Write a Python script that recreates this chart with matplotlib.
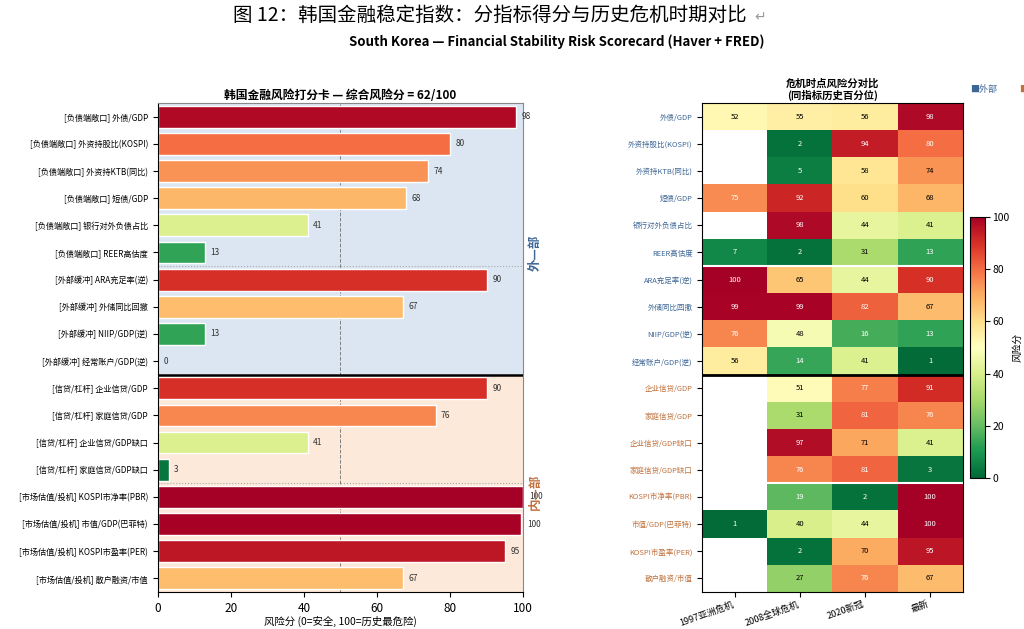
import numpy as np
import matplotlib.pyplot as plt
from matplotlib.colors import Normalize

plt.rcParams['font.family'] = ['Noto Sans CJK SC', 'DejaVu Sans']
plt.rcParams['axes.unicode_minus'] = False

# ---------------- données ----------------
groupes = ["负债端敞口"] * 6 + ["外部缓冲"] * 4 + ["信贷/杠杆"] * 4 + ["市场估值/投机"] * 4
indicateurs = ["外债/GDP", "外资持股比(KOSPI)", "外资持KTB(同比)", "短债/GDP",
               "银行对外负债占比", "REER高估度",
               "ARA充足率(逆)", "外储同比回撤", "NIIP/GDP(逆)", "经常账户/GDP(逆)",
               "企业信贷/GDP", "家庭信贷/GDP", "企业信贷/GDP缺口", "家庭信贷/GDP缺口",
               "KOSPI市净率(PBR)", "市值/GDP(巴菲特)", "KOSPI市盈率(PER)", "散户融资/市值"]
scores = [98, 80, 74, 68, 41, 13, 90, 67, 13, 0, 90, 76, 41, 3, 100, 99.5, 95, 67]

periodes = ["1997亚洲危机", "2008全球危机", "2020新冠", "最新"]
nan = np.nan
crise_1997 = [52, nan, nan, 75, nan, 7, 100, 99, 76, 56, nan, nan, nan, nan, nan, 1, nan, nan]
crise_2008 = [55, 2, 5, 92, 98, 2, 65, 99, 48, 14, 51, 31, 97, 76, 19, 40, 2, 27]
crise_2020 = [56, 94, 58, 60, 44, 31, 44, 82, 16, 41, 77, 81, 71, 81, 2, 44, 70, 76]
dernier = [98, 80, 74, 68, 41, 13, 90, 67, 13, 1, 91, 76, 41, 3, 100, 100, 95, 67]

n_ext = 10  # nombre d'indicateurs "外部"
bleu = "#3d6696"
orange = "#c0703c"

cmap = plt.get_cmap("RdYlGn_r")
norm = Normalize(0, 100)

fig = plt.figure(figsize=(10.24, 6.29), dpi=100)

fig.text(0.478, 0.975, "图 12：韩国金融稳定指数：分指标得分与历史危机时期对比", ha="center",
         va="center", fontsize=14)
fig.text(0.737, 0.972, "↵", ha="left", va="center", fontsize=10, color="#999999",
         family=["DejaVu Sans"])
fig.text(0.544, 0.933, "South Korea — Financial Stability Risk Scorecard (Haver + FRED)",
         ha="center", va="center", fontsize=9.5, fontweight="bold")

# ---------------- panneau gauche : barres ----------------
ax1 = fig.add_axes([0.154, 0.059, 0.357, 0.777])
n = len(scores)
y = np.arange(n)
ax1.axhspan(-0.5, n_ext - 0.5, color="#dce6f2", zorder=0)
ax1.axhspan(n_ext - 0.5, n - 0.5, color="#fde9d9", zorder=0)
ax1.barh(y, scores, height=0.8, color=cmap(norm(scores)), edgecolor="white",
         linewidth=1, zorder=2)
for yi, v in zip(y, scores):
    ax1.text(v + 1.5, yi, f"{v:.0f}", va="center", ha="left", fontsize=6, color="#333333",
             zorder=3)
ax1.axvline(50, color="gray", linestyle="--", linewidth=0.7, zorder=1)
ax1.axhline(5.5, color="#aaaaaa", linestyle=":", linewidth=0.8, zorder=1)
ax1.axhline(13.5, color="#aaaaaa", linestyle=":", linewidth=0.8, zorder=1)
ax1.axhline(n_ext - 0.5, color="black", linewidth=1.8, zorder=4)
ax1.set_yticks(y)
ax1.set_yticklabels([f"[{g}] {i}" for g, i in zip(groupes, indicateurs)], fontsize=5.9)
ax1.set_ylim(n - 0.5, -0.5)
ax1.set_xlim(0, 100)
ax1.set_xticks(range(0, 101, 20))
ax1.tick_params(axis="x", labelsize=8.5)
ax1.set_xlabel("风险分 (0=安全, 100=历史最危险)", fontsize=7.5, labelpad=1)
ax1.set_title("韩国金融风险打分卡 — 综合风险分 = 62/100", fontsize=8.5,
              fontweight="bold", pad=3)
for s in ax1.spines.values():
    s.set_color("#888888")
ax1.spines["left"].set_color("black")
ax1.spines["bottom"].set_color("black")
ax1.text(101.5, (n_ext - 1) / 2 + 0.5, "外—部", rotation=90, va="center", ha="left",
         fontsize=9, color=bleu, fontweight="bold", clip_on=False)
ax1.text(101.5, 13.8, "内—部", rotation=90, va="center", ha="left",
         fontsize=9, color=orange, fontweight="bold", clip_on=False)

# ---------------- panneau droit : carte de chaleur ----------------
ax2 = fig.add_axes([0.686, 0.059, 0.254, 0.777])
mat = np.array([crise_1997, crise_2008, crise_2020, dernier]).T
im = ax2.imshow(np.ma.masked_invalid(mat), cmap=cmap, norm=norm, aspect="auto")
ax2.set_facecolor("white")
for i in range(mat.shape[0]):
    for j in range(mat.shape[1]):
        v = mat[i, j]
        if np.isnan(v):
            continue
        c = "white" if (v >= 75 or v < 25) else "black"
        ax2.text(j, i, f"{v:.0f}", ha="center", va="center", fontsize=5.5, color=c)
ax2.axhline(5.5, color="white", linewidth=1.5)
ax2.axhline(13.5, color="white", linewidth=1.5)
ax2.axhline(n_ext - 0.5, color="black", linewidth=2)
ax2.set_yticks(np.arange(n))
ax2.set_yticklabels(indicateurs, fontsize=5.4)
for k, lab in enumerate(ax2.get_yticklabels()):
    lab.set_color(bleu if k < n_ext else orange)
ax2.set_xticks(np.arange(len(periodes)))
ax2.set_xticklabels(periodes, rotation=20, ha="right", fontsize=6.6)
ax2.tick_params(axis="x", pad=2)
ax2.set_title("危机时点风险分对比\n(同指标历史百分位)", fontsize=7.5, fontweight="bold",
              pad=3, linespacing=1.1)

cax = fig.add_axes([0.947, 0.240, 0.0146, 0.415])
cb = fig.colorbar(im, cax=cax)
cb.set_ticks(range(0, 101, 20))
cb.ax.tick_params(labelsize=7.5, pad=2)
cb.set_label("风险分", fontsize=7, labelpad=2)

fig.text(0.947, 0.857, "■外部", fontsize=6.5, color=bleu, ha="left", va="center")
fig.text(0.995, 0.857, "■内部", fontsize=6.5, color=orange, ha="left", va="center")

fig.savefig("out.png", dpi=100)
